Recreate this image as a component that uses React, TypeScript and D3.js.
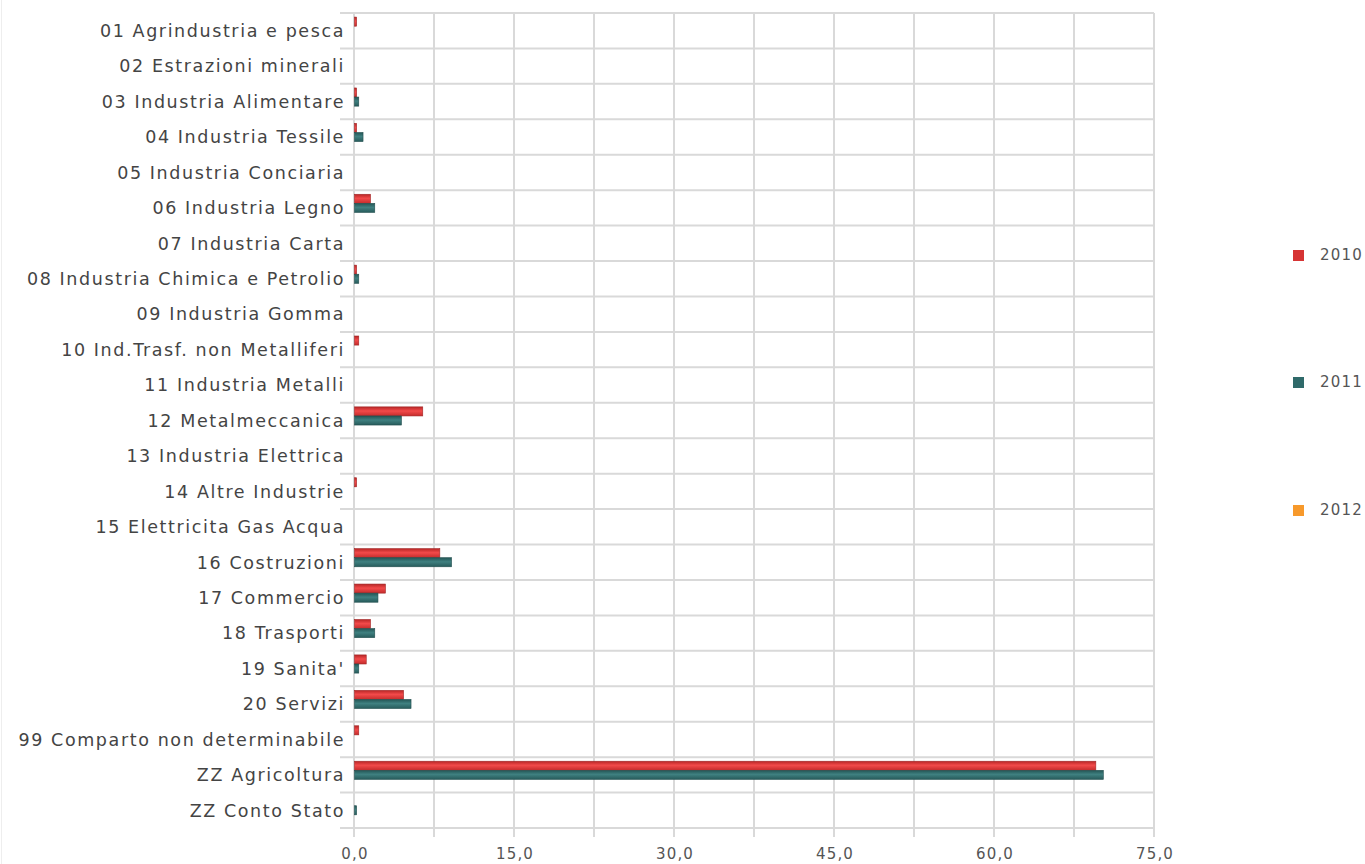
import * as d3 from 'd3';
import { useEffect, useRef } from 'react';

const categories = [
  '01 Agrindustria e pesca',
  '02 Estrazioni minerali',
  '03 Industria Alimentare',
  '04 Industria Tessile',
  '05 Industria Conciaria',
  '06 Industria Legno',
  '07 Industria Carta',
  '08 Industria Chimica e Petrolio',
  '09 Industria Gomma',
  '10 Ind.Trasf. non Metalliferi',
  '11 Industria Metalli',
  '12 Metalmeccanica',
  '13 Industria Elettrica',
  '14 Altre Industrie',
  '15 Elettricita Gas Acqua',
  '16 Costruzioni',
  '17 Commercio',
  '18 Trasporti',
  "19 Sanita'",
  '20 Servizi',
  '99 Comparto non determinabile',
  'ZZ Agricoltura',
  'ZZ Conto Stato',
];

const values2010 = [0.2, 0, 0.2, 0.2, 0, 1.5, 0, 0.2, 0, 0.4, 0, 6.4, 0, 0.2, 0, 8.0, 2.9, 1.5, 1.1, 4.6, 0.4, 69.5, 0];
const values2011 = [0, 0, 0.4, 0.8, 0, 1.9, 0, 0.4, 0, 0, 0, 4.4, 0, 0, 0, 9.1, 2.2, 1.9, 0.4, 5.3, 0, 70.2, 0.2];
const values2012 = [0, 0, 0, 0, 0, 0, 0, 0, 0, 0, 0, 0, 0, 0, 0, 0, 0, 0, 0, 0, 0, 0, 0];

const seriesNames = ['2010', '2011', '2012'];
const seriesColors = ['#d63434', '#2f6a6a', '#f7992b'];
const xTicks = [0, 15, 30, 45, 60, 75];
const xGrid = d3.range(0, 75.1, 7.5);

const W = 1365;
const H = 864;
const margin = { top: 13, right: 211, left: 354 };
const plotH = 815;
const font = 'DejaVu Sans, sans-serif';

export default function App() {
  const ref = useRef<SVGSVGElement>(null);

  useEffect(() => {
    const svg = d3.select(ref.current);
    svg.selectAll('*').remove();

    const innerW = W - margin.left - margin.right;

    const x = d3.scaleLinear().domain([0, 75]).range([margin.left, margin.left + innerW]);
    const y = d3
      .scaleBand<string>()
      .domain(categories)
      .range([margin.top, margin.top + plotH]);
    const inner = d3
      .scaleBand<string>()
      .domain(seriesNames)
      .range([0, y.bandwidth()])
      .paddingOuter(0.45);

    const defs = svg.append('defs');
    const grads = [
      ['#b82626', '#f24a4a', '#c42c2c'],
      ['#235555', '#3f8080', '#275b5b'],
      ['#e08020', '#ffae50', '#e08020'],
    ];
    grads.forEach((g, i) => {
      const lg = defs
        .append('linearGradient')
        .attr('id', `g${i}`)
        .attr('x1', 0)
        .attr('x2', 0)
        .attr('y1', 0)
        .attr('y2', 1);
      lg.append('stop').attr('offset', '0%').attr('stop-color', g[0]);
      lg.append('stop').attr('offset', '45%').attr('stop-color', g[1]);
      lg.append('stop').attr('offset', '100%').attr('stop-color', g[2]);
    });

    // page edge line
    svg
      .append('line')
      .attr('x1', 1.5)
      .attr('x2', 1.5)
      .attr('y1', 0)
      .attr('y2', H)
      .attr('stroke', '#eee')
      .attr('stroke-width', 1);

    const grid = svg.append('g').attr('stroke', '#d9d9d9').attr('stroke-width', 2);

    // horizontal grid lines between categories
    const hLines = categories.map((c) => y(c)!).concat([margin.top + plotH]);
    grid
      .selectAll('line.h')
      .data(hLines)
      .join('line')
      .attr('class', 'h')
      .attr('x1', margin.left - 14)
      .attr('x2', x(75))
      .attr('y1', (d) => d)
      .attr('y2', (d) => d);

    grid
      .selectAll('line.v')
      .data(xGrid)
      .join('line')
      .attr('class', 'v')
      .attr('x1', (d) => x(d))
      .attr('x2', (d) => x(d))
      .attr('y1', margin.top)
      .attr('y2', margin.top + plotH + 9);

    // category labels
    svg
      .append('g')
      .selectAll('text')
      .data(categories)
      .join('text')
      .attr('x', margin.left - 9)
      .attr('y', (d) => y(d)! + y.bandwidth() / 2)
      .attr('dy', '0.36em')
      .attr('text-anchor', 'end')
      .attr('font-family', font)
      .attr('font-size', 17.5)
      .attr('letter-spacing', 1.6)
      .attr('fill', '#444')
      .text((d) => d);

    // tick labels
    svg
      .append('g')
      .selectAll('text')
      .data(xTicks)
      .join('text')
      .attr('x', (d) => x(d) + 1)
      .attr('y', margin.top + plotH + 31)
      .attr('text-anchor', 'middle')
      .attr('font-family', font)
      .attr('font-size', 15)
      .attr('letter-spacing', 1.2)
      .attr('fill', '#555')
      .text((d) => d3.format('.1f')(d).replace('.', ','));

    // bars
    const series = [values2010, values2011, values2012];
    series.forEach((vals, si) => {
      svg
        .append('g')
        .selectAll('rect')
        .data(vals.map((v, i) => ({ v, c: categories[i] })).filter((d) => d.v > 0))
        .join('rect')
        .attr('x', x(0) + 0.5)
        .attr('y', (d) => y(d.c)! + inner(seriesNames[si])!)
        .attr('width', (d) => Math.max(1.5, x(d.v) - x(0)))
        .attr('height', inner.bandwidth())
        .attr('fill', `url(#g${si})`)
        .attr('stroke', d3.color(seriesColors[si])!.darker(0.8).toString())
        .attr('stroke-width', 0.6);
    });

    // legend
    const legendY = [255, 382, 510];
    const legend = svg
      .append('g')
      .selectAll('g')
      .data(seriesNames)
      .join('g')
      .attr('transform', (d, i) => `translate(1293, ${legendY[i]})`);
    legend
      .append('rect')
      .attr('x', 0)
      .attr('y', -5)
      .attr('width', 11)
      .attr('height', 11)
      .attr('fill', (d, i) => seriesColors[i]);
    legend
      .append('text')
      .attr('x', 27)
      .attr('y', 0)
      .attr('dy', '0.36em')
      .attr('font-family', font)
      .attr('font-size', 15)
      .attr('letter-spacing', 1.2)
      .attr('fill', '#555')
      .text((d) => d);
  }, []);

  return (
    <svg
      ref={ref}
      width={W}
      height={H}
      style={{ position: 'absolute', left: 0, top: 0, background: '#fff' }}
    />
  );
}
